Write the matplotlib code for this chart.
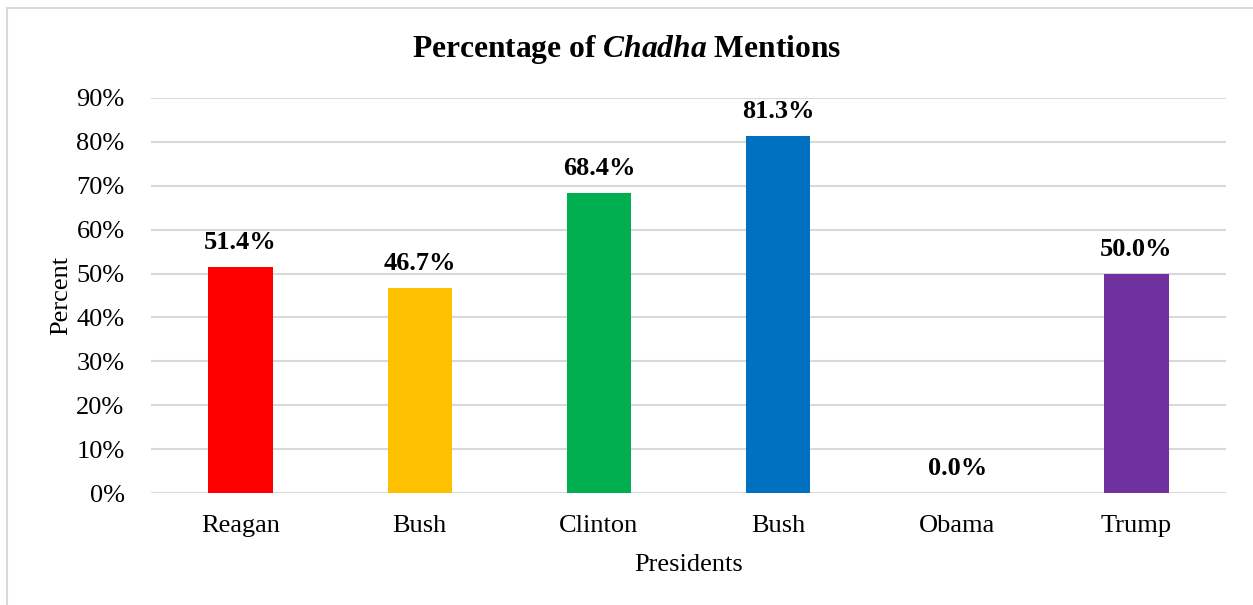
import numpy as np
import matplotlib.pyplot as plt
from matplotlib.patches import Rectangle
from matplotlib.ticker import PercentFormatter

presidents = ['Reagan', 'Bush', 'Clinton', 'Bush', 'Obama', 'Trump']
percent = [51.4, 46.7, 68.4, 81.3, 0.0, 50.0]
colors = ['#FF0000', '#FFC000', '#00B050', '#0070C0', '#7F7F7F', '#7030A0']

plt.rcParams['font.family'] = 'Liberation Serif'
plt.rcParams['mathtext.fontset'] = 'custom'
plt.rcParams['mathtext.it'] = 'Liberation Serif:italic:bold'

fig = plt.figure(figsize=(12.53, 6.05), dpi=100)
ax = fig.add_axes([151 / 1253, 1 - 493 / 605, (1226 - 151) / 1253, (493 - 98) / 605])

# outer frame like an Excel chart area
fig.patches.append(Rectangle((7 / 1253, -0.01), 1.02, 1 - 8 / 605 + 0.01,
                             transform=fig.transFigure, fill=False,
                             edgecolor='#D9D9D9', linewidth=1.5))

x = np.arange(len(presidents))
bars = ax.bar(x, percent, width=0.36, color=colors, zorder=3)

ax.set_xlim(-0.5, len(presidents) - 0.5)
ax.set_ylim(0, 90)
ax.set_yticks(np.arange(0, 91, 10))
ax.yaxis.set_major_formatter(PercentFormatter(decimals=0))
ax.grid(axis='y', color='#D9D9D9', linewidth=1.5, zorder=0)
for s in ax.spines.values():
    s.set_visible(False)
ax.tick_params(length=0, labelsize=19, colors='black')
ax.tick_params(axis='y', pad=19)
ax.tick_params(axis='x', pad=16)
ax.set_xticks(x)
ax.set_xticklabels(presidents)

# value labels above bars
for bar, v in zip(bars, percent):
    ax.annotate(f'{v:.1f}%', (bar.get_x() + bar.get_width() / 2, v),
                xytext=(0, 13), textcoords='offset points',
                ha='center', va='baseline', fontsize=19, fontweight='bold')

ax.set_xlabel('Presidents', fontsize=19, labelpad=12)
ax.set_ylabel('Percent', fontsize=19, labelpad=3)

fig.text(0.5, 1 - 50 / 605, r'Percentage of $\mathit{Chadha}$ Mentions',
         ha='center', va='center', fontsize=22.7, fontweight='bold')

fig.savefig('out.png', dpi=100)
